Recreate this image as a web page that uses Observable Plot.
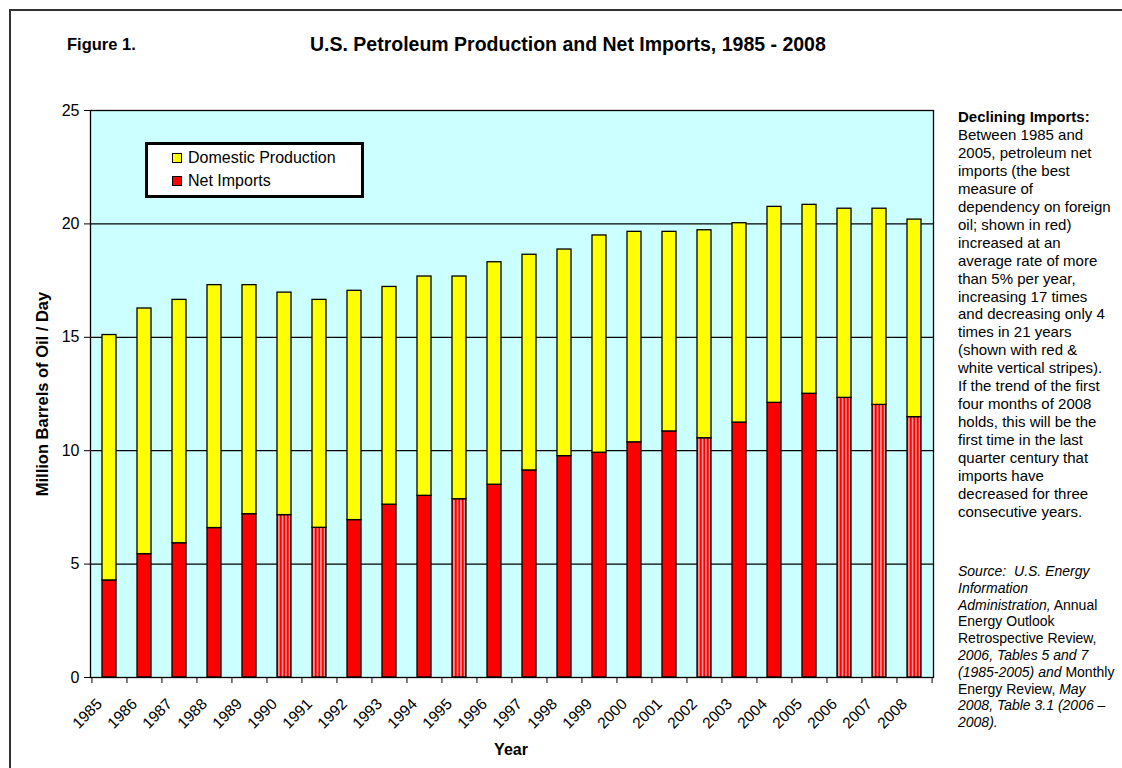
<!DOCTYPE html>
<html><head><meta charset="utf-8">
<script src="https://cdn.jsdelivr.net/npm/d3@7"></script>
<script src="https://cdn.jsdelivr.net/npm/@observablehq/plot@0.6"></script>
<style>
body{margin:0;background:#fff;font-family:"Liberation Sans",Arial,sans-serif;color:#000;}
#wrap{position:relative;width:1122px;height:768px;overflow:hidden;}
#border{position:absolute;left:9px;top:9px;width:1200px;height:900px;border:2px solid #333;}
#chart{position:absolute;left:0;top:0;}
#fig{position:absolute;left:67px;top:35px;font-weight:bold;font-size:16.5px;}
#title{position:absolute;left:310px;top:33px;font-weight:bold;font-size:19.5px;white-space:nowrap;}
#legend{position:absolute;left:145px;top:142px;width:213px;height:50px;border:3px solid #000;background:#fff;font-size:16px;}
#legend .row{position:absolute;left:24px;display:flex;align-items:center;white-space:nowrap;}
#legend .sw{width:8px;height:8px;border:1px solid #000;margin-right:6px;}
#note{position:absolute;left:958px;top:108px;font-size:15px;line-height:17.95px;white-space:nowrap;}
#source{position:absolute;left:958px;top:563px;font-size:14px;line-height:16.8px;white-space:nowrap;}
#ylab{position:absolute;left:42px;top:394px;transform:translate(-50%,-50%) rotate(-90deg);font-weight:bold;font-size:16.5px;white-space:nowrap;}
#xlab{position:absolute;left:511px;top:750px;transform:translate(-50%,-50%);font-weight:bold;font-size:16px;}
</style></head><body>
<div id="wrap">
<div id="border"></div>
<div id="fig">Figure 1.</div>
<div id="title">U.S. Petroleum Production and Net Imports, 1985 - 2008</div>
<div id="chart"></div>
<div id="ylab">Million Barrels of Oil / Day</div>
<div id="xlab">Year</div>
<div id="legend">
  <div class="row" style="top:4px"><div class="sw" style="background:#ffff00"></div>Domestic Production</div>
  <div class="row" style="top:27px"><div class="sw" style="background:#ff0000"></div>Net Imports</div>
</div>
<div id="note"><b>Declining Imports:</b><br>Between 1985 and<br>2005, petroleum net<br>imports (the best<br>measure of<br>dependency on foreign<br>oil; shown in red)<br>increased at an<br>average rate of more<br>than 5% per year,<br>increasing 17 times<br>and decreasing only 4<br>times in 21 years<br>(shown with red &amp;<br>white vertical stripes).<br>If the trend of the first<br>four months of 2008<br>holds, this will be the<br>first time in the last<br>quarter century that<br>imports have<br>decreased for three<br>consecutive years.</div>
<div id="source"><i>Source:&nbsp; U.S. Energy</i><br><i>Information</i><br><i>Administration,</i> Annual<br>Energy Outlook<br>Retrospective Review,<br><i>2006, Tables 5 and 7</i><br><i>(1985-2005) and</i> Monthly<br>Energy Review, <i>May</i><br><i>2008, Table 3.1 (2006 –</i><br><i>2008).</i></div>
</div>
<script>
const years = ["1985","1986","1987","1988","1989","1990","1991","1992","1993","1994","1995","1996","1997","1998","1999","2000","2001","2002","2003","2004","2005","2006","2007","2008"];
const netImports = [4.28,5.44,5.92,6.59,7.20,7.16,6.60,6.94,7.62,8.01,7.86,8.50,9.13,9.76,9.91,10.37,10.85,10.55,11.24,12.11,12.51,12.33,12.02,11.48];
const domestic = [10.82,10.83,10.73,10.71,10.10,9.81,10.05,10.11,9.60,9.67,9.82,9.81,9.51,9.11,9.58,9.28,8.80,9.17,8.79,8.64,8.33,8.34,8.65,8.71];
const stripedYears = ["1990","1991","1995","2002","2006","2007","2008"];
const yTicks = [0,5,10,15,20,25];

const data = years.map((year,i)=>({year, imports:netImports[i], total:netImports[i]+domestic[i], striped:stripedYears.includes(year)}));

const W=1122,H=768,ML=90,MR=189,MT=110,MB=91;
const step=(W-ML-MR)/years.length;

const chart = Plot.plot({
  width:W, height:H, marginLeft:ML, marginRight:MR, marginTop:MT, marginBottom:MB,
  style:{fontFamily:'"Liberation Sans",Arial,sans-serif', background:"transparent", color:"#000"},
  x:{type:"band", domain:years, paddingInner:0.6, paddingOuter:0.3, label:null},
  y:{domain:[0,25], label:null},
  marks:[
    Plot.frame({fill:"#ccffff", stroke:null}),
    Plot.gridY(yTicks.slice(1,5), {stroke:"#000", strokeOpacity:1, strokeWidth:1.3}),
    Plot.barY(data.filter(d=>!d.striped), {x:"year", y1:0, y2:"imports", fill:"#ff0000", stroke:"#000", strokeWidth:1.3}),
    Plot.barY(data.filter(d=>d.striped), {x:"year", y1:0, y2:"imports", fill:"url(#stripes)", stroke:"#000", strokeWidth:1.3}),
    Plot.barY(data, {x:"year", y1:"imports", y2:"total", fill:"#ffff00", stroke:"#000", strokeWidth:1.3}),
    Plot.frame({stroke:"#000", strokeWidth:1.3}),
    Plot.axisY({ticks:yTicks, tickSize:6, tickPadding:5, fontSize:16, label:null, tickFormat:d=>String(d)}),
    Plot.axisX({tickSize:0, tickRotate:-45, tickPadding:24, dx:-10, fontSize:15.5, label:null}),
    Plot.axisX({tickSize:6, tickFormat:()=>"", dx:-step/2, label:null}),
    Plot.axisX(["2008"], {tickSize:6, tickFormat:()=>"", dx:step/2, label:null})
  ]
});
const defs = d3.select(chart).insert("defs",":first-child");
const p = defs.append("pattern").attr("id","stripes").attr("patternUnits","userSpaceOnUse").attr("width",3.5).attr("height",8);
p.append("rect").attr("width",3.5).attr("height",8).attr("fill","#ff0000");
p.append("rect").attr("x",2).attr("width",1).attr("height",8).attr("fill","#fff4f4");
document.getElementById("chart").appendChild(chart);
</script>
</body></html>
